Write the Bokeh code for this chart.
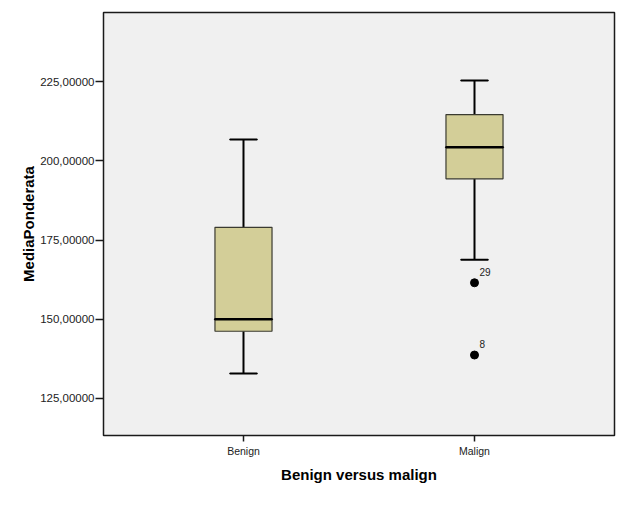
from bokeh.plotting import figure
from bokeh.models import FactorRange, Range1d, FixedTicker, ColumnDataSource
from bokeh.embed import file_html
from bokeh.resources import INLINE
from bokeh.core.properties import value

# ---- data ----
categories = ["Benign", "Malign"]
lower_whisker = [132.9, 168.8]
q1 = [146.2, 194.3]
median = [150.0, 204.3]
q3 = [179.0, 214.6]
upper_whisker = [206.7, 225.3]

outlier_group = ["Malign", "Malign"]
outlier_value = [161.5, 138.7]
outlier_label = ["29", "8"]

y_ticks = [125, 150, 175, 200, 225]
y_tick_labels = ["125,00000", "150,00000", "175,00000", "200,00000", "225,00000"]

FONT = "Liberation Sans"

p = figure(
    width=622, height=497,
    x_range=FactorRange(factors=categories, range_padding=0.106, range_padding_units="absolute"),
    y_range=Range1d(113.3, 246.8),
    output_backend="svg", toolbar_location=None, tools="",
    min_border_left=103, min_border_right=8, min_border_top=12, min_border_bottom=62,
)
p.background_fill_color = "#f0f0f0"
p.border_fill_color = "white"
p.outline_line_color = "#1a1a1a"
p.outline_line_width = 1.5
p.xgrid.visible = False
p.ygrid.visible = False

src = ColumnDataSource(dict(cat=categories, lo=lower_whisker, q1=q1, med=median, q3=q3, hi=upper_whisker))

# whiskers
p.segment(x0="cat", y0="q3", x1="cat", y1="hi", source=src, line_color="black", line_width=2)
p.segment(x0="cat", y0="lo", x1="cat", y1="q1", source=src, line_color="black", line_width=2)
# caps
p.rect(x="cat", y="hi", width=0.117, height=0.0001, source=src, line_color="black", line_width=2, fill_alpha=0)
p.rect(x="cat", y="lo", width=0.117, height=0.0001, source=src, line_color="black", line_width=2, fill_alpha=0)
# boxes
p.vbar(x="cat", width=0.247, bottom="q1", top="q3", source=src,
       fill_color="#d3ce98", line_color="#3a3a30", line_width=1.2)
# medians
p.rect(x="cat", y="med", width=0.247, height=0.0001, source=src, line_color="black", line_width=2.5, fill_alpha=0)

# outliers
osrc = ColumnDataSource(dict(cat=outlier_group, v=outlier_value, lab=outlier_label))
p.scatter(x="cat", y="v", source=osrc, size=8, fill_color="black", line_color="black")
p.text(x="cat", y="v", text="lab", source=osrc, x_offset=5, y_offset=-7,
       text_font=value(FONT), text_font_size="10px", text_color="#222222",
       text_baseline="bottom", text_align="left")

# axes
p.yaxis.ticker = FixedTicker(ticks=y_ticks)
p.yaxis.major_label_overrides = {t: l for t, l in zip(y_ticks, y_tick_labels)}
p.yaxis.minor_tick_line_color = None
p.yaxis.major_tick_out = 8
p.yaxis.major_tick_in = 0
p.yaxis.major_tick_line_color = "#1a1a1a"
p.yaxis.major_tick_line_width = 1.5
p.yaxis.axis_line_color = None
p.yaxis.major_label_text_font = FONT
p.yaxis.major_label_text_font_size = "11.5px"
p.yaxis.major_label_text_color = "#222222"
p.yaxis.major_label_standoff = 1
p.yaxis.axis_label = "MediaPonderata"
p.yaxis.axis_label_text_font = FONT
p.yaxis.axis_label_text_font_style = "bold"
p.yaxis.axis_label_text_font_size = "15px"
p.yaxis.axis_label_text_color = "black"
p.yaxis.axis_label_standoff = 0

p.xaxis.major_tick_out = 6
p.xaxis.major_tick_in = 0
p.xaxis.major_tick_line_color = "#1a1a1a"
p.xaxis.major_tick_line_width = 1.5
p.xaxis.axis_line_color = None
p.xaxis.major_label_text_font = FONT
p.xaxis.major_label_text_font_size = "10.5px"
p.xaxis.major_label_text_color = "#222222"
p.xaxis.major_label_standoff = 3
p.xaxis.axis_label = "Benign versus malign"
p.xaxis.axis_label_text_font = FONT
p.xaxis.axis_label_text_font_style = "bold"
p.xaxis.axis_label_text_font_size = "15px"
p.xaxis.axis_label_text_color = "black"
p.xaxis.axis_label_standoff = 6

open("out.html", "w").write(file_html(p, INLINE))
